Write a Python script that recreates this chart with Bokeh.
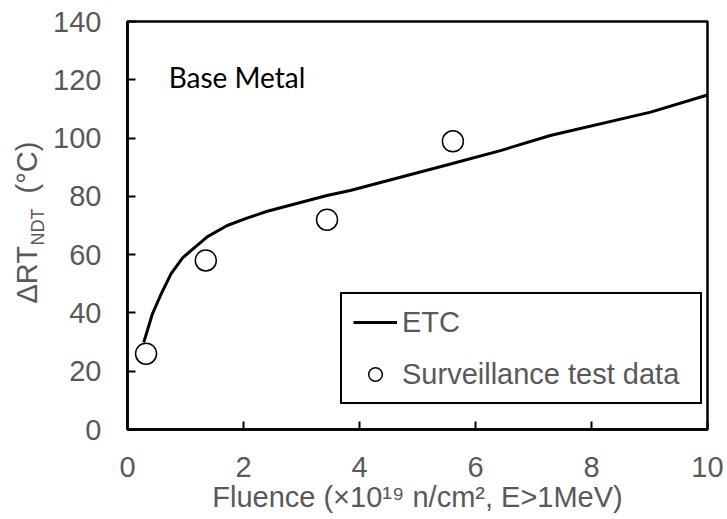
import math
from bokeh.plotting import figure
from bokeh.layouts import row
from bokeh.models import Range1d, Legend, LegendItem, Label, FixedTicker
from bokeh.embed import file_html
from bokeh.resources import INLINE

# ETC curve
etc_x = [0.28, 0.43, 0.58, 0.75, 0.95, 1.15, 1.38, 1.72, 2.07, 2.41, 3.44, 3.84, 5.57, 6.43, 7.29, 9.02, 10.0]
etc_y = [29.9, 39.7, 46.5, 53.4, 58.9, 62.3, 66.2, 70.0, 72.6, 74.9, 80.3, 82.0, 91.1, 95.7, 100.9, 108.9, 114.8]

# Surveillance test data
surv_x = [0.32, 1.35, 3.44, 5.61]
surv_y = [26.0, 58.0, 72.0, 98.9]

x_ticks = [0, 2, 4, 6, 8, 10]
y_ticks = [0, 20, 40, 60, 80, 100, 120, 140]

x_title = "Fluence (×10¹⁹ n/cm², E>1MeV)"
y_title_parts = ["ΔRT", "NDT", "(°C)"]

GREY = "#595959"
FONT = "Liberation Sans"
H = 519
TOP, BOTTOM = 21, 90

# ---- narrow panel holding the y-axis title (with subscript) ----
# its frame shares the main frame's vertical extent; its data units are page pixels
LW = 48
lab = figure(width=LW, height=H, output_backend="svg", toolbar_location=None,
             x_range=Range1d(0, LW), y_range=Range1d(BOTTOM, H - TOP),
             x_axis_type=None, y_axis_type=None,
             min_border_left=0, min_border_right=0,
             min_border_top=TOP, min_border_bottom=BOTTOM)
lab.outline_line_color = None
lab.xgrid.visible = False
lab.ygrid.visible = False
rot = math.pi / 2
lab.add_layout(Label(x=26.4, y=H - 303, text=y_title_parts[0], angle=rot, text_font=FONT,
                     text_font_size="29px", text_color=GREY, text_baseline="middle",
                     text_align="left"))
lab.add_layout(Label(x=37.5, y=H - 245, text=y_title_parts[1], angle=rot, text_font=FONT,
                     text_font_size="18px", text_color=GREY, text_baseline="middle",
                     text_align="left"))
lab.add_layout(Label(x=26.4, y=H - 193, text=y_title_parts[2], angle=rot, text_font=FONT,
                     text_font_size="29px", text_color=GREY, text_baseline="middle",
                     text_align="left"))

# ---- main chart ----
p = figure(width=727 - LW, height=H, output_backend="svg", toolbar_location=None,
           x_range=Range1d(0, 10), y_range=Range1d(0, 140),
           min_border_left=127 - LW, min_border_right=20,
           min_border_top=TOP, min_border_bottom=BOTTOM)
p.background_fill_color = "white"
p.border_fill_color = "white"
p.outline_line_color = "black"
p.outline_line_width = 2.5
p.outline_line_alpha = 1.0
p.xgrid.visible = False
p.ygrid.visible = False

for ax, ticks, standoff in ((p.xaxis[0], x_ticks, 27), (p.yaxis[0], y_ticks, 26)):
    ax.ticker = FixedTicker(ticks=ticks)
    ax.major_tick_in = 8
    ax.major_tick_out = 0
    ax.minor_tick_in = 0
    ax.minor_tick_out = 0
    ax.major_tick_line_width = 2
    ax.major_tick_line_color = "black"
    ax.axis_line_width = 2.5
    ax.axis_line_color = "black"
    ax.major_label_text_font = FONT
    ax.major_label_text_font_size = "29px"
    ax.major_label_text_color = GREY
    ax.major_label_standoff = standoff

p.xaxis[0].axis_label = x_title
p.xaxis[0].axis_label_text_font = FONT
p.xaxis[0].axis_label_text_font_size = "29px"
p.xaxis[0].axis_label_text_font_style = "normal"
p.xaxis[0].axis_label_text_color = GREY
p.xaxis[0].axis_label_standoff = 1

line = p.line(etc_x, etc_y, line_color="black", line_width=3)
pts = p.scatter(surv_x, surv_y, marker="circle", size=21, fill_color="white",
                line_color="black", line_width=1.5)

legend = Legend(items=[LegendItem(label="ETC", renderers=[line]),
                       LegendItem(label="Surveillance test data", renderers=[pts])],
                location=(213, 25))
legend.label_text_font = FONT
legend.label_text_font_size = "29px"
legend.label_text_color = GREY
legend.glyph_width = 44
legend.glyph_height = 34
legend.label_standoff = 5
legend.label_width = 287
legend.padding = 11
legend.spacing = 18
legend.margin = 0
legend.border_line_color = "black"
legend.border_line_width = 2.5
legend.border_line_alpha = 1.0
legend.background_fill_color = "white"
legend.background_fill_alpha = 1.0
p.add_layout(legend)

# "Base Metal" annotation
p.add_layout(Label(x=0.71, y=121, text="Base Metal", text_font="Lato",
                   text_font_size="28px", text_color="black", text_baseline="middle"))

layout = row(lab, p)
open("out.html", "w").write(file_html(layout, INLINE))
